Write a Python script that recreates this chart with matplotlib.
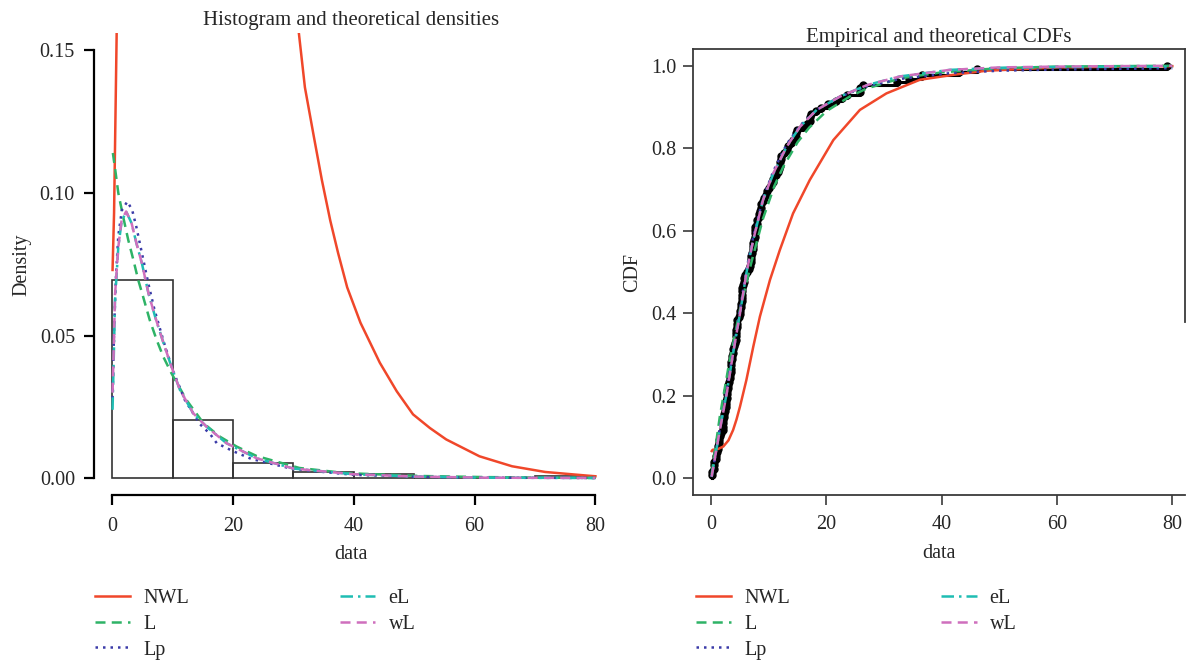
import numpy as np
import matplotlib
matplotlib.use("Agg")
import matplotlib.pyplot as plt

plt.rcParams['font.family'] = ['Liberation Serif', 'DejaVu Serif']
plt.rcParams['font.size'] = 14.5
plt.rcParams['text.color'] = '#262626'
plt.rcParams['axes.labelcolor'] = '#262626'
plt.rcParams['xtick.color'] = '#262626'
plt.rcParams['ytick.color'] = '#262626'

# remission times (months), 128 bladder cancer patients
remission = [
    0.08, 2.09, 3.48, 4.87, 6.94, 8.66, 13.11, 23.63, 0.20, 2.23, 3.52, 4.98, 6.97, 9.02, 13.29,
    0.40, 2.26, 3.57, 5.06, 7.09, 9.22, 13.80, 25.74, 0.50, 2.46, 3.64, 5.09, 7.26, 9.47, 14.24,
    25.82, 0.51, 2.54, 3.70, 5.17, 7.28, 9.74, 14.76, 26.31, 0.81, 2.62, 3.82, 5.32, 7.32, 10.06,
    14.77, 32.15, 2.64, 3.88, 5.32, 7.39, 10.34, 14.83, 34.26, 0.90, 2.69, 4.18, 5.34, 7.59, 10.66,
    15.96, 36.66, 1.05, 2.69, 4.23, 5.41, 7.62, 10.75, 16.62, 43.01, 1.19, 2.75, 4.26, 5.41, 7.63,
    17.12, 46.12, 1.26, 2.83, 4.33, 5.49, 7.66, 11.25, 17.14, 79.05, 1.35, 2.87, 5.62, 7.87, 11.64,
    17.36, 1.40, 3.02, 4.34, 5.71, 7.93, 11.79, 18.10, 1.46, 4.40, 5.85, 8.26, 11.98, 19.13, 1.76,
    3.25, 4.50, 6.25, 8.37, 12.02, 2.02, 3.31, 4.51, 6.54, 8.53, 12.03, 20.28, 2.02, 3.36, 6.76,
    12.07, 21.73, 2.07, 3.36, 6.93, 8.65, 12.63, 22.69,
]
bin_edges = [0, 10, 20, 30, 40, 50, 60, 70, 80]

models = ['NWL', 'L', 'Lp', 'eL', 'wL']
colors = {'NWL': '#f0472a', 'L': '#2eb366', 'Lp': '#3b3ba8', 'eL': '#1fbdb3', 'wL': '#cf6fbd'}
styles = {'NWL': '-', 'L': (0, (4, 2.5)), 'Lp': (0, (1, 2.0)), 'eL': (0, (5, 2, 1, 2)), 'wL': (0, (4, 2.5))}

# fitted densities (NWL leaves the frame between ~1 and ~30)
dens_x = {
    'NWL': [0.05, 0.3, 0.45, 0.73, 0.95, np.nan, 30.3, 30.9, 31.9, 33.4, 34.7, 36.1, 37.4, 38.9,
            41.1, 44.3, 47.1, 49.8, 52.6, 55.3, 60.8, 66.2, 71.7, 78.8, 80],
    'L': [0.1, 0.5, 1.0, 1.8, 2.65, 3.5, 4.3, 5.1, 6.2, 7.35, 8.45, 9.8, 12.3, 15.1, 17.8, 20.6,
          23.9, 31, 38.7, 50.9, 62, 80],
    'Lp': [0.05, 0.3, 0.6, 1.0, 1.6, 2.5, 3.3, 4.0, 5.0, 6.0, 7.0, 8.5, 10, 12, 14.5, 16.2, 17.3,
           20, 23, 30, 40, 50, 62, 80],
    'eL': [0.05, 0.28, 0.45, 1.0, 1.55, 2.3, 3.2, 4.0, 4.9, 6.0, 7.1, 8.5, 9.8, 11.2, 13.4, 15.6,
           18.9, 22.2, 23.9, 30, 40, 50, 62, 80],
    'wL': [0.05, 0.28, 0.45, 1.0, 1.55, 2.3, 3.2, 4.0, 4.9, 6.0, 7.1, 8.5, 9.8, 11.2, 13.4, 15.6,
           18.9, 22.2, 23.9, 30, 40, 50, 62, 80],
}
dens_y = {
    'NWL': [0.073, 0.093, 0.115, 0.156, 0.19, np.nan, 0.165, 0.156, 0.137, 0.1195, 0.1046, 0.0903,
            0.0789, 0.0669, 0.0545, 0.0405, 0.0305, 0.0224, 0.0176, 0.0136, 0.0077, 0.0042,
            0.0022, 0.0009, 0.0007],
    'L': [0.114, 0.108, 0.100, 0.0917, 0.0835, 0.0765, 0.0695, 0.0637, 0.0555, 0.0485, 0.0426,
          0.0368, 0.0274, 0.0193, 0.0146, 0.0111, 0.0078, 0.0036, 0.0018, 0.0008, 0.0004, 0.0001],
    'Lp': [0.028, 0.052, 0.070, 0.085, 0.094, 0.097, 0.094, 0.088, 0.078, 0.068, 0.059, 0.048,
           0.038, 0.0275, 0.019, 0.0155, 0.0123, 0.0095, 0.0068, 0.0032, 0.0012, 0.0005, 0.0002,
           0.0001],
    'eL': [0.024, 0.045, 0.062, 0.081, 0.090, 0.0935, 0.0894, 0.0824, 0.0754, 0.0648, 0.0566,
           0.0473, 0.0391, 0.031, 0.0228, 0.0181, 0.0123, 0.0088, 0.0070, 0.0034, 0.0014, 0.0006,
           0.0002, 0.0001],
    'wL': [0.030, 0.048, 0.064, 0.081, 0.0905, 0.0935, 0.0894, 0.0824, 0.0754, 0.0648, 0.0566,
           0.0473, 0.0391, 0.031, 0.0228, 0.0181, 0.0123, 0.0088, 0.0070, 0.0034, 0.0014, 0.0006,
           0.0002, 0.0001],
}

# fitted CDFs
cdf_x = {
    'NWL': [0.1, 0.24, 1.2, 2.1, 3.0, 3.8, 4.4, 5.0, 6.1, 7.3, 8.45, 10.2, 11.9, 14.2, 17.1, 21.2,
            25.8, 30.4, 36.2, 42, 47.8, 60, 80],
    'L': [0.08, 1.5, 3.0, 5.0, 7.0, 9.0, 11.0, 12.5, 15.0, 17.0, 20.0, 24.0, 27.0, 33.0, 40.0,
          50.0, 60.0, 80.0],
    'Lp': [0.08, 1.5, 2.7, 3.8, 5.0, 6.1, 7.3, 9.0, 10.8, 13.1, 15.4, 18.3, 22.3, 27.0, 32.7,
           41.4, 50.0, 60.0, 80.0],
    'eL': [0.08, 1.5, 2.7, 3.8, 5.0, 6.1, 7.3, 9.0, 10.8, 13.1, 15.4, 18.3, 22.3, 27.0, 32.7,
           41.4, 50.0, 60.0, 80.0],
    'wL': [0.08, 1.5, 2.7, 3.8, 5.0, 6.1, 7.3, 9.0, 10.75, 13.1, 15.4, 18.3, 22.3, 27.0, 32.7,
           41.4, 50.0, 60.0, 80.0],
}
cdf_y = {
    'NWL': [0.066, 0.069, 0.071, 0.077, 0.092, 0.117, 0.143, 0.174, 0.238, 0.319, 0.392, 0.481,
            0.553, 0.642, 0.723, 0.82, 0.893, 0.933, 0.966, 0.978, 0.988, 0.996, 0.999],
    'L': [0.01, 0.15, 0.27, 0.41, 0.525, 0.63, 0.71, 0.755, 0.815, 0.85, 0.89, 0.925, 0.945,
          0.97, 0.984, 0.994, 0.998, 1.0],
    'Lp': [0.003, 0.12, 0.215, 0.31, 0.41, 0.505, 0.585, 0.68, 0.745, 0.81, 0.855, 0.893, 0.925,
           0.95, 0.968, 0.982, 0.988, 0.991, 0.994],
    'eL': [0.004, 0.118, 0.207, 0.303, 0.40, 0.497, 0.578, 0.675, 0.739, 0.804, 0.852, 0.893,
           0.925, 0.953, 0.974, 0.99, 0.995, 0.997, 0.998],
    'wL': [0.004, 0.117, 0.206, 0.303, 0.40, 0.497, 0.578, 0.675, 0.739, 0.804, 0.852, 0.893,
           0.925, 0.953, 0.974, 0.99, 0.996, 0.998, 1.0],
}

data = np.array(remission)
counts, _ = np.histogram(data, bins=bin_edges)
heights = counts / (len(data) * np.diff(bin_edges))

fig = plt.figure(figsize=(11.87, 6.62), dpi=100)
ax1 = fig.add_axes([0.0789, 0.2517, 0.4339, 0.6982])
ax2 = fig.add_axes([0.5842, 0.2526, 0.4141, 0.673])

# --- left: histogram + densities
ax1.bar(bin_edges[:-1], heights, width=np.diff(bin_edges), align='edge',
        fill=False, edgecolor='#333333', linewidth=1.2, zorder=1)
for m in models:
    ax1.plot(dens_x[m], dens_y[m], color=colors[m], linestyle=styles[m], lw=1.8,
             label=m, zorder=2)
ax1.set_xlim(-3.08, 82.2)
ax1.set_ylim(-0.006, 0.156)
ax1.set_xticks([0, 20, 40, 60, 80])
ax1.set_yticks([0, 0.05, 0.10, 0.15])
ax1.set_yticklabels(['0.00', '0.05', '0.10', '0.15'])
for s in ['top', 'right']:
    ax1.spines[s].set_visible(False)
ax1.spines['left'].set_bounds(0, 0.15)
ax1.spines['bottom'].set_bounds(0, 80)
for s in ['left', 'bottom']:
    ax1.spines[s].set_linewidth(1.6)
    ax1.spines[s].set_color('black')
ax1.tick_params(direction='out', length=7.5, width=1.6, pad=6, colors='black', labelcolor='#262626')
ax1.tick_params(axis='x', pad=8)
ax1.set_title('Histogram and theoretical densities', fontsize=15, pad=6)
ax1.set_xlabel('data', labelpad=6.5)
ax1.set_ylabel('Density', labelpad=6)

# --- right: empirical and theoretical CDFs
for m in models:
    ax2.plot(cdf_x[m], cdf_y[m], color=colors[m], linestyle=styles[m], lw=1.8, label=m, zorder=3)
xs = np.sort(data)
Fs = np.arange(1, len(xs) + 1) / len(xs)
ax2.step(np.r_[xs[0], xs], np.r_[0, Fs], where='post', color='black', lw=2.2, zorder=2)
ax2.plot(xs, Fs, 'o', color='black', ms=5, zorder=2)
ax2.set_xlim(-3.08, 82.2)
ax2.set_ylim(-0.04, 1.04)
ax2.set_xticks([0, 20, 40, 60, 80])
ax2.set_yticks([0, 0.2, 0.4, 0.6, 0.8, 1.0])
ax2.set_yticklabels(['0.0', '0.2', '0.4', '0.6', '0.8', '1.0'])
for s in ax2.spines.values():
    s.set_linewidth(1.3)
    s.set_color('#3a3a3a')
ax2.spines['right'].set_bounds(0.379, 1.04)
ax2.tick_params(direction='out', length=7.5, width=1.2, pad=5, colors='#3a3a3a', labelcolor='#262626')
ax2.tick_params(axis='x', pad=7)
ax2.set_title('Empirical and theoretical CDFs', fontsize=15, pad=5)
ax2.set_xlabel('data', labelpad=7.5)
ax2.set_ylabel('CDF', labelpad=6)

# legends below both panels
for ax, x0 in [(ax1, 0.0716), (ax2, 0.578)]:
    h, l = ax.get_legend_handles_labels()
    fig.legend(h, l, loc='upper left', bbox_to_anchor=(x0, 0.125), ncol=2, frameon=False,
               borderpad=0, handlelength=1.75, handletextpad=0.65, columnspacing=7.5,
               labelspacing=0.32, fontsize=14.5)

fig.savefig('out.png', dpi=100)
